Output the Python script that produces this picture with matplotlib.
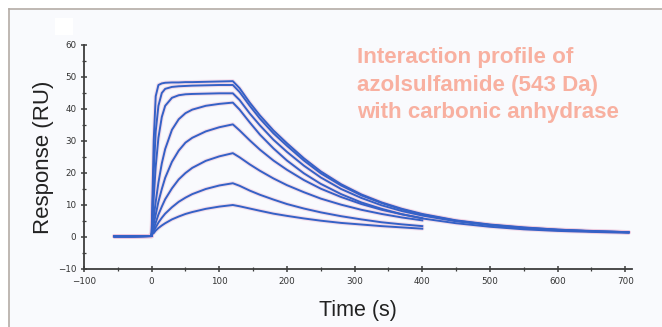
import matplotlib
matplotlib.use("Agg")
import matplotlib.pyplot as plt
from matplotlib.patches import Rectangle
from matplotlib.lines import Line2D
from matplotlib.ticker import MultipleLocator

# ---- data ----
baseline_t = [-55, -30, 0]
baseline_r = [0.2, 0.2, 0.3]

assoc_t = [0, 3, 6, 10, 15, 20, 30, 40, 50, 60, 80, 100, 120]
c1_assoc = [0.8, 30, 44, 47.5, 48.0, 48.2, 48.3, 48.3, 48.4, 48.4, 48.5, 48.6, 48.7]
c2_assoc = [0.8, 20, 33, 41, 45, 46.3, 46.9, 47.1, 47.2, 47.3, 47.4, 47.5, 47.5]
c3_assoc = [0.8, 12, 22, 31, 37.5, 41, 43.5, 44.3, 44.6, 44.7, 44.8, 44.9, 44.9]
c4_assoc = [0.8, 6, 11, 17, 23, 27.5, 33.5, 36.8, 38.7, 39.8, 41.0, 41.6, 42.0]
c5_assoc = [0.8, 4, 7, 11, 15, 18.5, 23.5, 27, 29.5, 31, 33, 34.3, 35.2]
c6_assoc = [0.8, 2.5, 4.5, 7, 9.5, 11.8, 15.2, 18, 20, 21.6, 23.8, 25.2, 26.2]
c7_assoc = [0.8, 1.8, 3, 4.5, 6, 7.3, 9.3, 11, 12.3, 13.4, 15, 16.1, 16.8]
c8_assoc = [0.8, 1.2, 2, 2.8, 3.6, 4.3, 5.5, 6.4, 7.2, 7.8, 8.8, 9.5, 10.0]

dissoc_t = [130, 145, 160, 180, 200, 225, 250, 280, 310, 340, 370, 400,
            450, 500, 550, 600, 650, 705]
c1_dissoc = [46.5, 42.0, 38.0, 33.3, 29.3, 24.6, 20.5, 16.5, 13.3, 10.8, 8.8, 7.2,
             5.2, 3.9, 3.0, 2.3, 1.9, 1.5]
c2_dissoc = [45.3, 41.0, 37.0, 32.4, 28.5, 23.9, 19.9, 16.1, 13.0, 10.6, 8.6, 7.0,
             5.1, 3.8, 2.9, 2.3, 1.8, 1.5]
c3_dissoc = [42.8, 38.6, 34.9, 30.4, 26.6, 22.3, 18.6, 15.0, 12.2, 9.9, 8.1, 6.7,
             4.9, 3.7, 2.8, 2.2, 1.8, 1.5]
c4_dissoc = [39.8, 35.8, 32.0, 27.7, 23.9, 19.9, 16.6, 13.4, 10.8, 8.8, 7.1, 5.8,
             4.3, 3.2, 2.4, 1.9, 1.6, 1.3]
c5_dissoc = [33.3, 30.2, 27.3, 23.9, 21.0, 17.8, 15.1, 12.5, 10.3, 8.5, 7.1, 5.9]
c6_dissoc = [24.9, 22.7, 20.7, 18.3, 16.2, 14.0, 12.0, 10.1, 8.5, 7.2, 6.1, 5.2]
c7_dissoc = [16.0, 14.5, 13.2, 11.7, 10.3, 8.9, 7.7, 6.5, 5.5, 4.6, 3.95, 3.4]
c8_dissoc = [9.6, 8.9, 8.2, 7.3, 6.6, 5.8, 5.1, 4.4, 3.9, 3.4, 3.0, 2.6]

assoc_curves = [c1_assoc, c2_assoc, c3_assoc, c4_assoc, c5_assoc, c6_assoc, c7_assoc, c8_assoc]
dissoc_curves = [c1_dissoc, c2_dissoc, c3_dissoc, c4_dissoc, c5_dissoc, c6_dissoc, c7_dissoc, c8_dissoc]

x_ticks = [-100, 0, 100, 200, 300, 400, 500, 600, 700]
y_ticks = [-10, 0, 10, 20, 30, 40, 50, 60]

title_text = "Interaction profile of\nazolsulfamide (543 Da)\nwith carbonic anhydrase"

# ---- figure ----
W, H = 662, 327
fig = plt.figure(figsize=(W / 100, H / 100), dpi=100, facecolor="white")

# panel background & frame (top and left edges)
fig.patches.append(Rectangle((9 / W, 0), 1 - 9 / W, 1 - 9 / H, transform=fig.transFigure,
                             facecolor="#f9fafd", edgecolor="none", zorder=-10))
fig.lines.append(Line2D([9 / W, 1], [1 - 9 / H, 1 - 9 / H], transform=fig.transFigure,
                        color="#b4aca6", lw=1.2))
fig.lines.append(Line2D([9 / W, 9 / W], [0, 1 - 9 / H], transform=fig.transFigure,
                        color="#b4aca6", lw=1.2))
fig.patches.append(Rectangle((55 / W, 1 - 35 / H), 18 / W, 17 / H, transform=fig.transFigure,
                             facecolor="white", edgecolor="none", zorder=-5))

ax = fig.add_axes([84 / W, 58 / H, 548 / W, 224 / H])
ax.set_facecolor("none")

line_col = "#3561c6"
halo_col = "#eec6dc"
for a, d in zip(assoc_curves, dissoc_curves):
    t = baseline_t + assoc_t + dissoc_t[:len(d)]
    r = baseline_r + a + d
    ax.plot(t, r, color=halo_col, lw=3.0, alpha=0.55, solid_capstyle="round", zorder=2)
    ax.plot(t, r, color=line_col, lw=1.4, zorder=3)

ax.set_xlim(-100, 710)
ax.set_ylim(-10, 60)
ax.set_xticks(x_ticks)
ax.set_yticks(y_ticks)
ax.xaxis.set_minor_locator(MultipleLocator(50))
ax.yaxis.set_minor_locator(MultipleLocator(5))

for s in ["top", "right"]:
    ax.spines[s].set_visible(False)
for s in ["left", "bottom"]:
    ax.spines[s].set_color("#3d3d3d")
    ax.spines[s].set_linewidth(1.3)

ax.tick_params(which="major", direction="inout", length=5, width=1.1, color="#3d3d3d",
               labelsize=6.3, labelcolor="#333333", pad=3)
ax.tick_params(which="minor", direction="inout", length=3, width=0.9, color="#3d3d3d")

ax.set_xlabel("Time (s)", fontsize=15.5, family="Liberation Sans", color="#222222", labelpad=10)
ax.set_ylabel("Response (RU)", fontsize=16, family="Liberation Sans", color="#222222", labelpad=3)

fig.text(357 / W, 1 - 47 / H, title_text, ha="left", va="top", fontsize=16.1,
         fontweight="bold", family="Liberation Sans", color="#f8b0a0", linespacing=1.42)

fig.savefig("out.png", dpi=100, facecolor="white")
